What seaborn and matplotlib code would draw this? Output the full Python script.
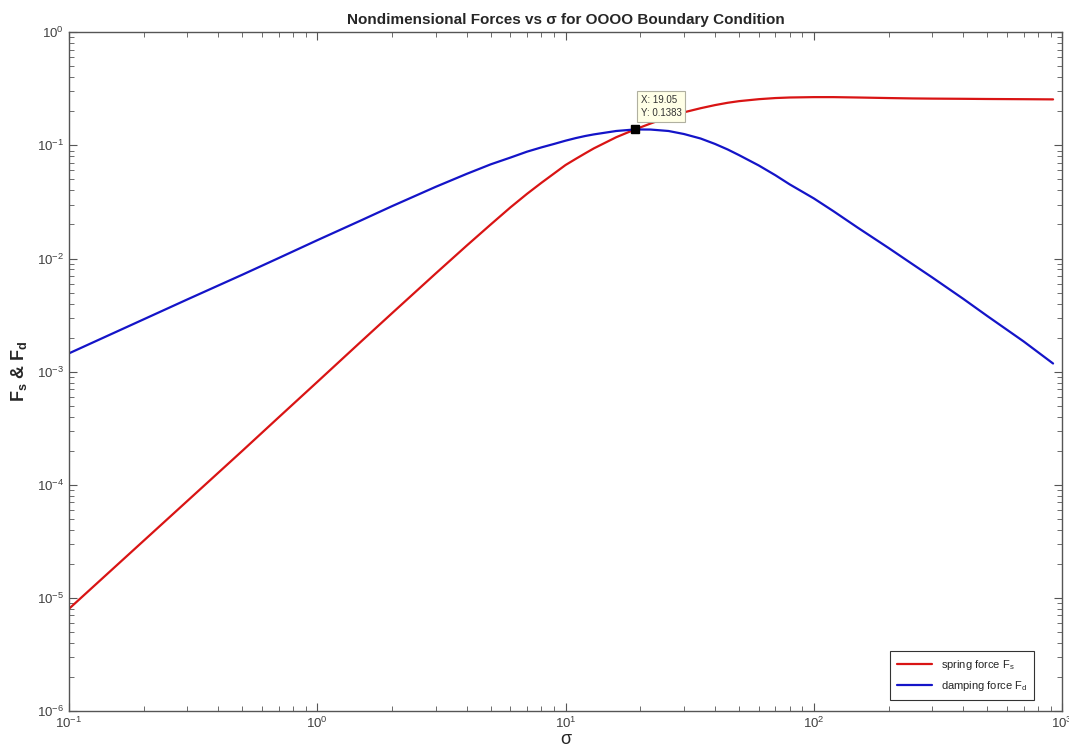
import numpy as np
import pandas as pd
import matplotlib
matplotlib.use("Agg")
import matplotlib.pyplot as plt
import seaborn as sns
from matplotlib.ticker import LogLocator, NullFormatter

# 曲线数据
sigma = [0.1, 0.2, 0.3, 0.5, 0.7, 1, 1.5, 2, 3, 4, 5, 6, 7, 8, 9, 10, 11, 12, 13, 16,
         19.05, 22, 26, 30, 35, 40, 45, 50, 60, 70, 80, 100, 120, 150, 200, 250, 300,
         400, 500, 700, 920]
spring_force = [8.0e-6, 3.2e-5, 7.2e-5, 2.0e-4, 3.95e-4, 8.1e-4, 1.84e-3, 3.28e-3,
                7.37e-3, 1.30e-2, 2.0e-2, 2.83e-2, 3.73e-2, 4.67e-2, 5.65e-2, 0.067,
                0.076, 0.085, 0.094, 0.118, 0.1383, 0.156, 0.178, 0.196, 0.213, 0.227,
                0.238, 0.246, 0.256, 0.262, 0.265, 0.267, 0.267, 0.265, 0.262, 0.260,
                0.259, 0.258, 0.257, 0.256, 0.255]
damping_force = [1.45e-3, 2.9e-3, 4.35e-3, 7.2e-3, 1.01e-2, 1.45e-2, 2.17e-2, 2.9e-2,
                 4.3e-2, 5.6e-2, 6.8e-2, 7.8e-2, 8.8e-2, 9.6e-2, 0.103, 0.110, 0.116,
                 0.121, 0.125, 0.134, 0.1383, 0.138, 0.134, 0.126, 0.115, 0.103, 0.092,
                 0.082, 0.0665, 0.0545, 0.0452, 0.034, 0.0262, 0.0188, 0.0124, 0.0089,
                 0.0068, 0.0044, 0.0031, 0.00185, 0.00118]
tip_x, tip_y = 19.05, 0.1383

df = pd.DataFrame({"sigma": sigma, "Fs": spring_force, "Fd": damping_force})

sns.set_style("ticks")
plt.rcParams["font.family"] = ["Liberation Sans", "DejaVu Sans"]
plt.rcParams["mathtext.fontset"] = "custom"
plt.rcParams["mathtext.rm"] = "Liberation Sans"
plt.rcParams["mathtext.it"] = "Liberation Sans:italic"
plt.rcParams["mathtext.bf"] = "Liberation Sans:bold"

fig = plt.figure(figsize=(10.69, 7.5), dpi=100)
ax = fig.add_axes([0.0645, 0.052, 0.929, 0.905])

sns.lineplot(data=df, x="sigma", y="Fs", ax=ax, color="#d91414", lw=1.6,
             label="spring force F$_\\mathrm{s}$")
sns.lineplot(data=df, x="sigma", y="Fd", ax=ax, color="#1414c8", lw=1.6,
             label="damping force F$_\\mathrm{d}$")

ax.set_xscale("log")
ax.set_yscale("log")
ax.set_xlim(0.1, 1000)
ax.set_ylim(1e-6, 1)

# 坐标轴样式（MATLAB 风格）
for s in ax.spines.values():
    s.set_color("#555555")
    s.set_linewidth(1.0)
ax.xaxis.set_major_locator(LogLocator(base=10, numticks=10))
ax.yaxis.set_major_locator(LogLocator(base=10, numticks=10))
ax.xaxis.set_minor_locator(LogLocator(base=10, subs=np.arange(2, 10), numticks=20))
ax.yaxis.set_minor_locator(LogLocator(base=10, subs=np.arange(2, 10), numticks=20))
ax.xaxis.set_minor_formatter(NullFormatter())
ax.yaxis.set_minor_formatter(NullFormatter())
ax.tick_params(which="both", direction="in", top=True, right=True,
               color="#555555", labelcolor="#404040", labelsize=9.5)
ax.tick_params(which="major", length=6)
ax.tick_params(which="minor", length=3.5)

ax.set_title("Nondimensional Forces vs σ for OOOO Boundary Condition",
             fontsize=11, fontweight="bold", pad=6)
ax.set_xlabel("σ", fontsize=13, labelpad=0)
ax.set_ylabel("F$_\\mathbf{s}$ & F$_\\mathbf{d}$", fontsize=13, fontweight="bold",
              labelpad=6)

# 数据提示框
ax.plot([tip_x], [tip_y], marker="s", color="black", ms=6, zorder=5)
ax.annotate(f"X: {tip_x}\nY: {tip_y}", xy=(tip_x, tip_y), xytext=(4, 8),
            textcoords="offset points", fontsize=7, color="#333333",
            va="bottom", ha="left", linespacing=1.4,
            bbox=dict(boxstyle="square,pad=0.4", fc="#ffffe6", ec="#b0b0a0", lw=0.8))

leg = ax.legend(loc="lower right", bbox_to_anchor=(1034 / 1069, 50 / 750),
                bbox_transform=fig.transFigure, borderaxespad=0,
                fontsize=8, frameon=True, fancybox=False, edgecolor="black",
                handlelength=3.2, borderpad=0.6, labelspacing=0.7)
leg.get_frame().set_linewidth(0.8)

fig.savefig("out.png", dpi=100)
